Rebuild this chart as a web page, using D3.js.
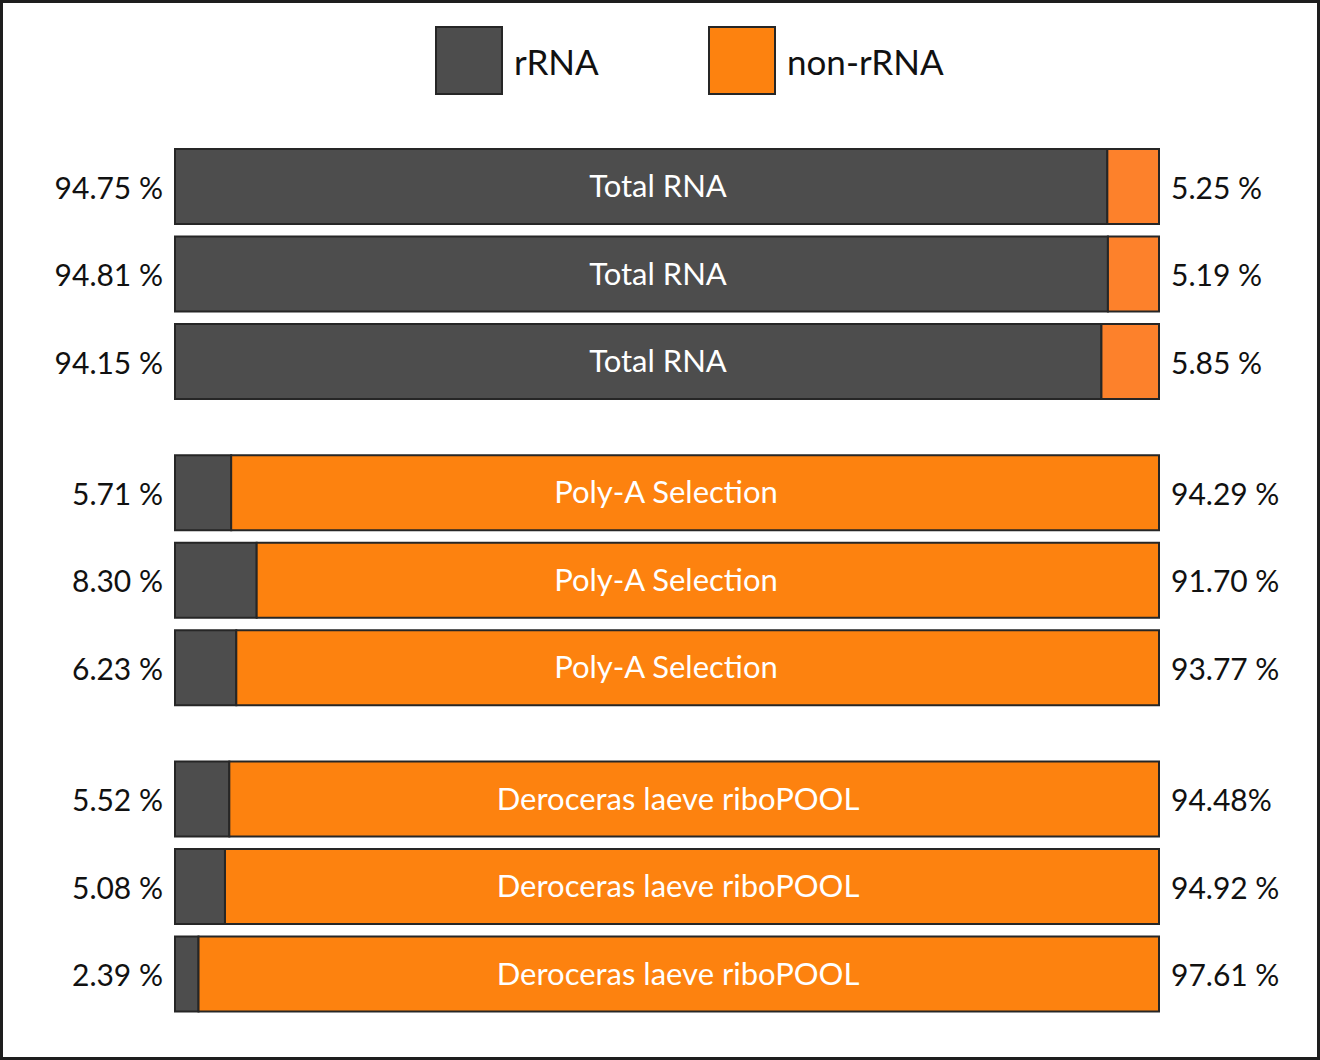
<!DOCTYPE html>
<html>
<head>
<meta charset="utf-8">
<script src="https://cdn.jsdelivr.net/npm/d3@7"></script>
<style>
  html, body { margin: 0; padding: 0; background: #fff; }
  svg text { font-family: Lato, "Open Sans", sans-serif; }
</style>
</head>
<body>
<svg id="chart" width="1320" height="1060"></svg>
<script>
// data
const samples = [
  'Total RNA', 'Total RNA', 'Total RNA',
  'Poly-A Selection', 'Poly-A Selection', 'Poly-A Selection',
  'Deroceras laeve riboPOOL', 'Deroceras laeve riboPOOL', 'Deroceras laeve riboPOOL'
];
const groups = [0, 0, 0, 1, 1, 1, 2, 2, 2];
const rRNA = [94.75, 94.81, 94.15, 5.71, 8.30, 6.23, 5.52, 5.08, 2.39];
const nonRRNA = [5.25, 5.19, 5.85, 94.29, 91.70, 93.77, 94.48, 94.92, 97.61];
const leftLabels = ['94.75 %', '94.81 %', '94.15 %', '5.71 %', '8.30 %', '6.23 %', '5.52 %', '5.08 %', '2.39 %'];
const rightLabels = ['5.25 %', '5.19 %', '5.85 %', '94.29 %', '91.70 %', '93.77 %', '94.48%', '94.92 %', '97.61 %'];
const legendKeys = ['rRNA', 'non-rRNA'];

const svg = d3.select('#chart');
const width = 1320, height = 1060;

const darkGray = '#4d4d4d';
const orange = '#fd820f';
const orangeLight = '#fd812b';
const strokeCol = '#262626';
const groupOrange = [orangeLight, orange, orange];
const groupLabelShift = [-9, -1, 11];

// frame
svg.append('rect')
  .attr('x', 1.5).attr('y', 1.5)
  .attr('width', width - 3).attr('height', height - 3)
  .attr('fill', '#fff')
  .attr('stroke', '#1e1e1e')
  .attr('stroke-width', 3);

const x = d3.scaleLinear().domain([0, 100]).range([175, 1159]);
// each group gap is half a row slot
const slot = d3.scaleLinear().domain([0, 1]).range([149, 236.5]);
const barH = 75;
const rowTop = (i) => slot(i + groups[i] * 0.5);

// legend
const legendX = [436, 709];
const legend = svg.append('g').attr('class', 'legend');
legendKeys.forEach((k, i) => {
  legend.append('rect')
    .attr('x', legendX[i]).attr('y', 27)
    .attr('width', 66).attr('height', 67)
    .attr('fill', i === 0 ? darkGray : orange)
    .attr('stroke', strokeCol)
    .attr('stroke-width', 2);
  legend.append('text')
    .attr('x', legendX[i] + 78).attr('y', 61)
    .attr('dominant-baseline', 'central')
    .attr('font-size', 35)
    .attr('fill', '#111')
    .text(k);
});

const rows = svg.append('g').attr('class', 'rows')
  .selectAll('g.row')
  .data(samples.map((s, i) => ({ s, i })))
  .enter()
  .append('g')
  .attr('class', 'row')
  .attr('transform', (d) => `translate(0,${rowTop(d.i)})`);

rows.append('rect')
  .attr('x', x(0))
  .attr('y', 0)
  .attr('width', (d) => x(rRNA[d.i]) - x(0))
  .attr('height', barH)
  .attr('fill', darkGray)
  .attr('stroke', strokeCol)
  .attr('stroke-width', 2);

rows.append('rect')
  .attr('x', (d) => x(rRNA[d.i]))
  .attr('y', 0)
  .attr('width', (d) => x(rRNA[d.i] + nonRRNA[d.i]) - x(rRNA[d.i]))
  .attr('height', barH)
  .attr('fill', (d) => groupOrange[groups[d.i]])
  .attr('stroke', strokeCol)
  .attr('stroke-width', 2);

rows.append('text')
  .attr('x', (d) => (x(0) + x(100)) / 2 + groupLabelShift[groups[d.i]])
  .attr('y', barH / 2 - 1.5)
  .attr('text-anchor', 'middle')
  .attr('dominant-baseline', 'central')
  .attr('font-size', 31)
  .attr('fill', '#fff')
  .text((d) => d.s);

rows.append('text')
  .attr('x', x(0) - 12)
  .attr('y', barH / 2)
  .attr('text-anchor', 'end')
  .attr('dominant-baseline', 'central')
  .attr('font-size', 30)
  .attr('fill', '#111')
  .text((d) => leftLabels[d.i]);

rows.append('text')
  .attr('x', x(100) + 12)
  .attr('y', barH / 2)
  .attr('text-anchor', 'start')
  .attr('dominant-baseline', 'central')
  .attr('font-size', 30)
  .attr('fill', '#111')
  .text((d) => rightLabels[d.i]);
</script>
</body>
</html>
